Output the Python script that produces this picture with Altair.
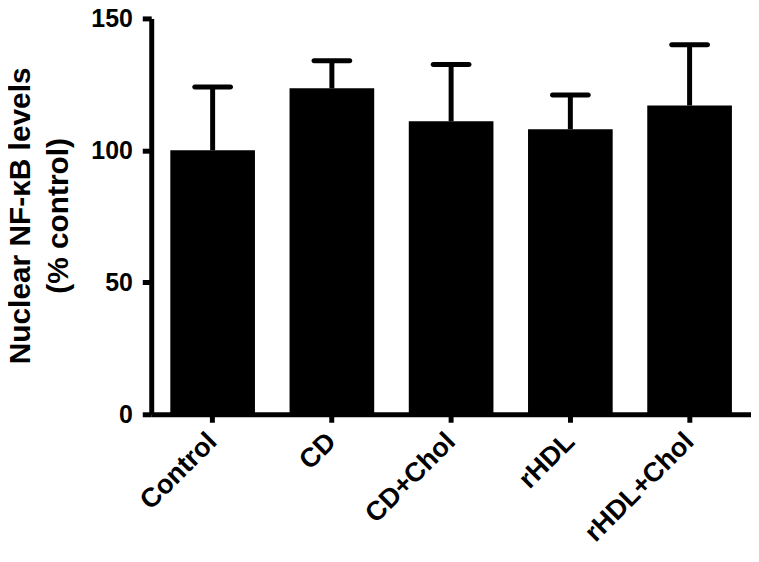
import altair as alt
import pandas as pd

categories = ["Control", "CD", "CD+Chol", "rHDL", "rHDL+Chol"]
means = [100, 123.5, 111, 108, 117]
uppers = [124, 134, 132.5, 121, 140]
y_ticks = [0, 50, 100, 150]
y_title = ["Nuclear NF-\u03baB levels", "\u00a0\u00a0\u00a0(% control)"]

df = pd.DataFrame({"group": categories, "mean": means, "upper": uppers})

FONT = "Liberation Sans"

x_enc = alt.X(
    "group:N",
    sort=categories,
    scale=alt.Scale(paddingInner=0.29, paddingOuter=0.16),
    axis=alt.Axis(
        title=None,
        labelAngle=-45,
        labelAlign="right",
        labelBaseline="middle",
        labelFont=FONT,
        labelFontSize=27,
        labelFontWeight="bold",
        labelColor="black",
        labelPadding=15,
        tickSize=8,
        tickWidth=5,
        tickColor="black",
        domainWidth=5,
        domainColor="black",
        grid=False,
    ),
)

y_enc = alt.Y(
    "mean:Q",
    scale=alt.Scale(domain=[0, 150], nice=False),
    axis=alt.Axis(
        values=y_ticks,
        title=y_title,
        titleFont=FONT,
        titleFontSize=30,
        titleFontWeight="bold",
        titleColor="black",
        titleLineHeight=38,
        titleAngle=270,
        titleX=-122,
        titleY=198,
        titleAlign="center",
        titleBaseline="alphabetic",
        labelFont=FONT,
        labelFontSize=25,
        labelFontWeight="bold",
        labelColor="black",
        labelPadding=10,
        tickSize=9,
        tickWidth=5,
        tickColor="black",
        domainWidth=5,
        domainColor="black",
        grid=False,
    ),
)

bars = alt.Chart(df).mark_bar(color="black").encode(x=x_enc, y=y_enc)

err = alt.Chart(df).mark_rule(color="black", strokeWidth=5).encode(
    x=alt.X("group:N", sort=categories),
    y="mean:Q",
    y2="upper:Q",
)

caps = alt.Chart(df).mark_tick(
    color="black", size=41, thickness=5, cornerRadius=2.5, opacity=1
).encode(
    x=alt.X("group:N", sort=categories),
    y="upper:Q",
)

chart = (
    alt.layer(err, caps, bars)
    .properties(
        width=603,
        height=398,
        padding={"left": 144, "top": 9, "right": 0, "bottom": 139},
        autosize=alt.AutoSizeParams(type="none"),
    )
    .configure_view(stroke=None)
)

chart.save("out.html", embed_options={"renderer": "svg", "actions": False})
